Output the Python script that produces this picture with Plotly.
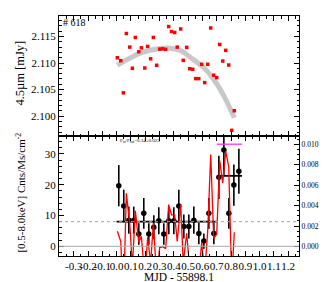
import plotly.graph_objects as go

# ---- top panel: 4.5um light curve ----
ir_x = [0.005, 0.029, 0.047, 0.068, 0.092, 0.110, 0.131, 0.155, 0.173, 0.197,
        0.217, 0.238, 0.257, 0.280, 0.301, 0.322, 0.343, 0.364, 0.384, 0.406,
        0.424, 0.448, 0.466, 0.490, 0.511, 0.532, 0.553, 0.574, 0.595, 0.616,
        0.637, 0.658, 0.679, 0.700, 0.721, 0.742, 0.763, 0.784, 0.805, 0.823]
ir_flux = [2.11099, 2.11043, 2.10438, 2.11556, 2.11300, 2.10901, 2.11481, 2.11212, 2.11286, 2.10906,
           2.11313, 2.11080, 2.11481, 2.10957, 2.11262, 2.11268, 2.11257, 2.11687, 2.11594, 2.11575,
           2.11300, 2.11642, 2.11050, 2.11294, 2.10893, 2.10882, 2.10706, 2.10706, 2.10976, 2.10631,
           2.10976, 2.11661, 2.10770, 2.10725, 2.11350, 2.11037, 2.11238, 2.10962, 2.09732, 2.10101]

trend_x = [0.005, 0.17, 0.29, 0.38, 0.45, 0.52, 0.61, 0.68, 0.75, 0.823]
trend_y = [2.1096, 2.1119, 2.1127, 2.1128, 2.1123, 2.1110, 2.1091, 2.1069, 2.1038, 2.0997]

# ---- bottom panel: X-ray light curve ----
xr_x = [0.015, 0.050, 0.085, 0.120, 0.155, 0.190, 0.225, 0.260, 0.295, 0.330,
        0.365, 0.400, 0.435, 0.470, 0.505, 0.540, 0.575, 0.610, 0.645, 0.680,
        0.715, 0.750, 0.785, 0.820, 0.855]
xr_rate = [19.7, 13.1, 8.5, 8.5, 4.0, 10.7, 4.0, 6.2, 8.3, 4.0,
           8.3, 8.3, 13.1, 6.4, 6.4, 8.5, 4.2, 1.7, 10.7, 4.2,
           22.4, 31.3, 10.7, 19.9, 24.4]
xr_err = [6.7, 5.3, 4.4, 4.4, 3.5, 5.0, 3.5, 3.9, 4.4, 3.5,
          4.4, 4.4, 5.3, 3.9, 3.9, 4.4, 3.5, 2.5, 5.0, 3.5,
          7.0, 8.5, 5.0, 6.7, 7.3]

# 4.5um residuals (right axis, mJy)
ir_resid = [0.0015, 0.0005, -0.0057, 0.0052, 0.0022, -0.0020, 0.0035, 0.0004, 0.0010, -0.0030,
            0.0009, -0.0016, 0.0023, -0.0030, -0.0001, 0.0000, -0.0002, 0.0041, 0.0031, 0.0031,
            0.0005, 0.0041, -0.0016, 0.0013, -0.0022, -0.0019, -0.0032, -0.0028, 0.0004, -0.0026,
            0.0015, 0.0090, 0.0008, 0.0012, 0.0084, 0.0062, 0.0093, 0.0078, -0.0034, 0.0014]

block_x = [[0.0, 0.700], [0.716, 0.877]]
block_y = [8.0, 22.9]
peak_x = [0.700, 0.877]
peak_y = 0.0100
mean_rate = 8.0

x_ticks = [-0.3, -0.2, -0.1, 0.0, 0.1, 0.2, 0.3, 0.4, 0.5, 0.6, 0.7, 0.8, 0.9, 1.0, 1.1, 1.2]
x_ticktext = ["-0.3", "-0.2", "-0.1", "0.0", "0.1", "0.2", "0.3", "0.4", "0.5", "0.6",
              "0.7", "0.8", "0.9", "1.0", "1.1", "1.2"]

FONT = "Liberation Serif"

fig = go.Figure()

# top panel
fig.add_trace(go.Scatter(x=trend_x, y=trend_y, mode="lines", line=dict(color="#c8c8c8", width=5, shape="spline"),
                         xaxis="x2", yaxis="y2", hoverinfo="skip"))
fig.add_trace(go.Scatter(x=ir_x, y=ir_flux, mode="markers",
                         marker=dict(symbol="square", size=3.5, color="#ff0000"),
                         xaxis="x2", yaxis="y2"))

# bottom panel reference lines
fig.add_hline(y=0, line=dict(color="#a8a8a8", width=1), xref="x", yref="y")
fig.add_hline(y=mean_rate, line=dict(color="#a8a8a8", width=1, dash="dot"), xref="x", yref="y")

# residual red line on right axis
fig.add_trace(go.Scatter(x=ir_x, y=ir_resid, mode="lines", line=dict(color="#ff0000", width=1.3),
                         xaxis="x", yaxis="y3"))
fig.add_trace(go.Scatter(x=peak_x, y=[peak_y, peak_y], mode="lines", line=dict(color="#ff33ff", width=1.3),
                         xaxis="x", yaxis="y3"))

for bx, by in zip(block_x, block_y):
    fig.add_trace(go.Scatter(x=bx, y=[by, by], mode="lines", line=dict(color="black", width=1.8),
                             xaxis="x", yaxis="y"))

fig.add_trace(go.Scatter(x=xr_x, y=xr_rate, mode="markers",
                         marker=dict(symbol="circle", size=5.5, color="black"),
                         error_y=dict(type="data", array=xr_err, color="black", thickness=1.6, width=0),
                         xaxis="x", yaxis="y"))

ax_common = dict(showline=True, linecolor="black", linewidth=1, ticks="inside",
                 tickcolor="black", showgrid=False, zeroline=False)
tf_main = dict(family=FONT, size=11, color="black")

fig.update_layout(
    width=327, height=282,
    margin=dict(l=51, r=36, t=8, b=34),
    paper_bgcolor="white", plot_bgcolor="white",
    showlegend=False,
    font=dict(family=FONT, color="black"),
    xaxis=dict(**ax_common, tickfont=tf_main, domain=[0, 1], anchor="y", range=[-0.403, 1.2755],
               tickmode="array", tickvals=x_ticks, ticktext=x_ticktext, tickangle=0, ticklen=5,
               mirror="ticks",
               minor=dict(ticks="inside", dtick=0.05, tick0=0, ticklen=2.5, tickcolor="black")),
    yaxis=dict(**ax_common, tickfont=tf_main, domain=[0, 0.5], anchor="x", range=[-3.15, 35.84],
               tick0=0, dtick=10, ticklen=5, mirror=True,
               minor=dict(ticks="inside", dtick=2, ticklen=2.5, tickcolor="black")),
    yaxis3=dict(**ax_common, tickfont=dict(family=FONT, size=7.5, color="#000000"),
                overlaying="y", side="right", anchor="x", range=[-0.00092, 0.0108],
                tick0=0, dtick=0.002, tickformat=".3f", ticklen=5,
                minor=dict(ticks="inside", dtick=0.0005, ticklen=2.5, tickcolor="black")),
    xaxis2=dict(**ax_common, domain=[0, 1], anchor="y2", matches="x", showticklabels=False,
                tickmode="array", tickvals=x_ticks, ticklen=5, mirror="ticks",
                minor=dict(ticks="inside", dtick=0.05, tick0=0, ticklen=2.5, tickcolor="black")),
    yaxis2=dict(**ax_common, tickfont=tf_main, domain=[0.5, 1], anchor="x2", range=[2.09625, 2.11886],
                tick0=2.1, dtick=0.005, tickformat=".3f", ticklen=5, mirror="ticks",
                minor=dict(ticks="inside", dtick=0.001, ticklen=2.5, tickcolor="black")),
)

ann = [
    dict(text="4.5µm [mJy]", x=-0.1625, y=0.76, textangle=-90, font=dict(size=12.5)),
    dict(text="[0.5-8.0keV] Cnts/Ms/cm<sup>-2</sup>", x=-0.16, y=0.2625, textangle=-90, font=dict(size=11)),
    dict(text="4.5µm [mJy]", x=1.099, y=0.25, textangle=-90, font=dict(size=7)),
    dict(text="MJD - 55898.1", x=0.499, y=-0.0875, font=dict(size=11.5)),
]
for a in ann:
    fig.add_annotation(xref="paper", yref="paper", showarrow=False, xanchor="center", yanchor="middle",
                       **a)
fig.add_annotation(text="# 618", xref="paper", yref="paper", x=0.008, y=0.971, showarrow=False,
                   xanchor="left", yanchor="middle", font=dict(size=10))
fig.add_annotation(text="F<sub>in</sub>/F<sub>out</sub>=0.34±0.023", xref="paper", yref="paper",
                   x=0.246, y=0.481, showarrow=False, xanchor="left", yanchor="middle",
                   font=dict(size=5))

fig.write_html("out.html")
